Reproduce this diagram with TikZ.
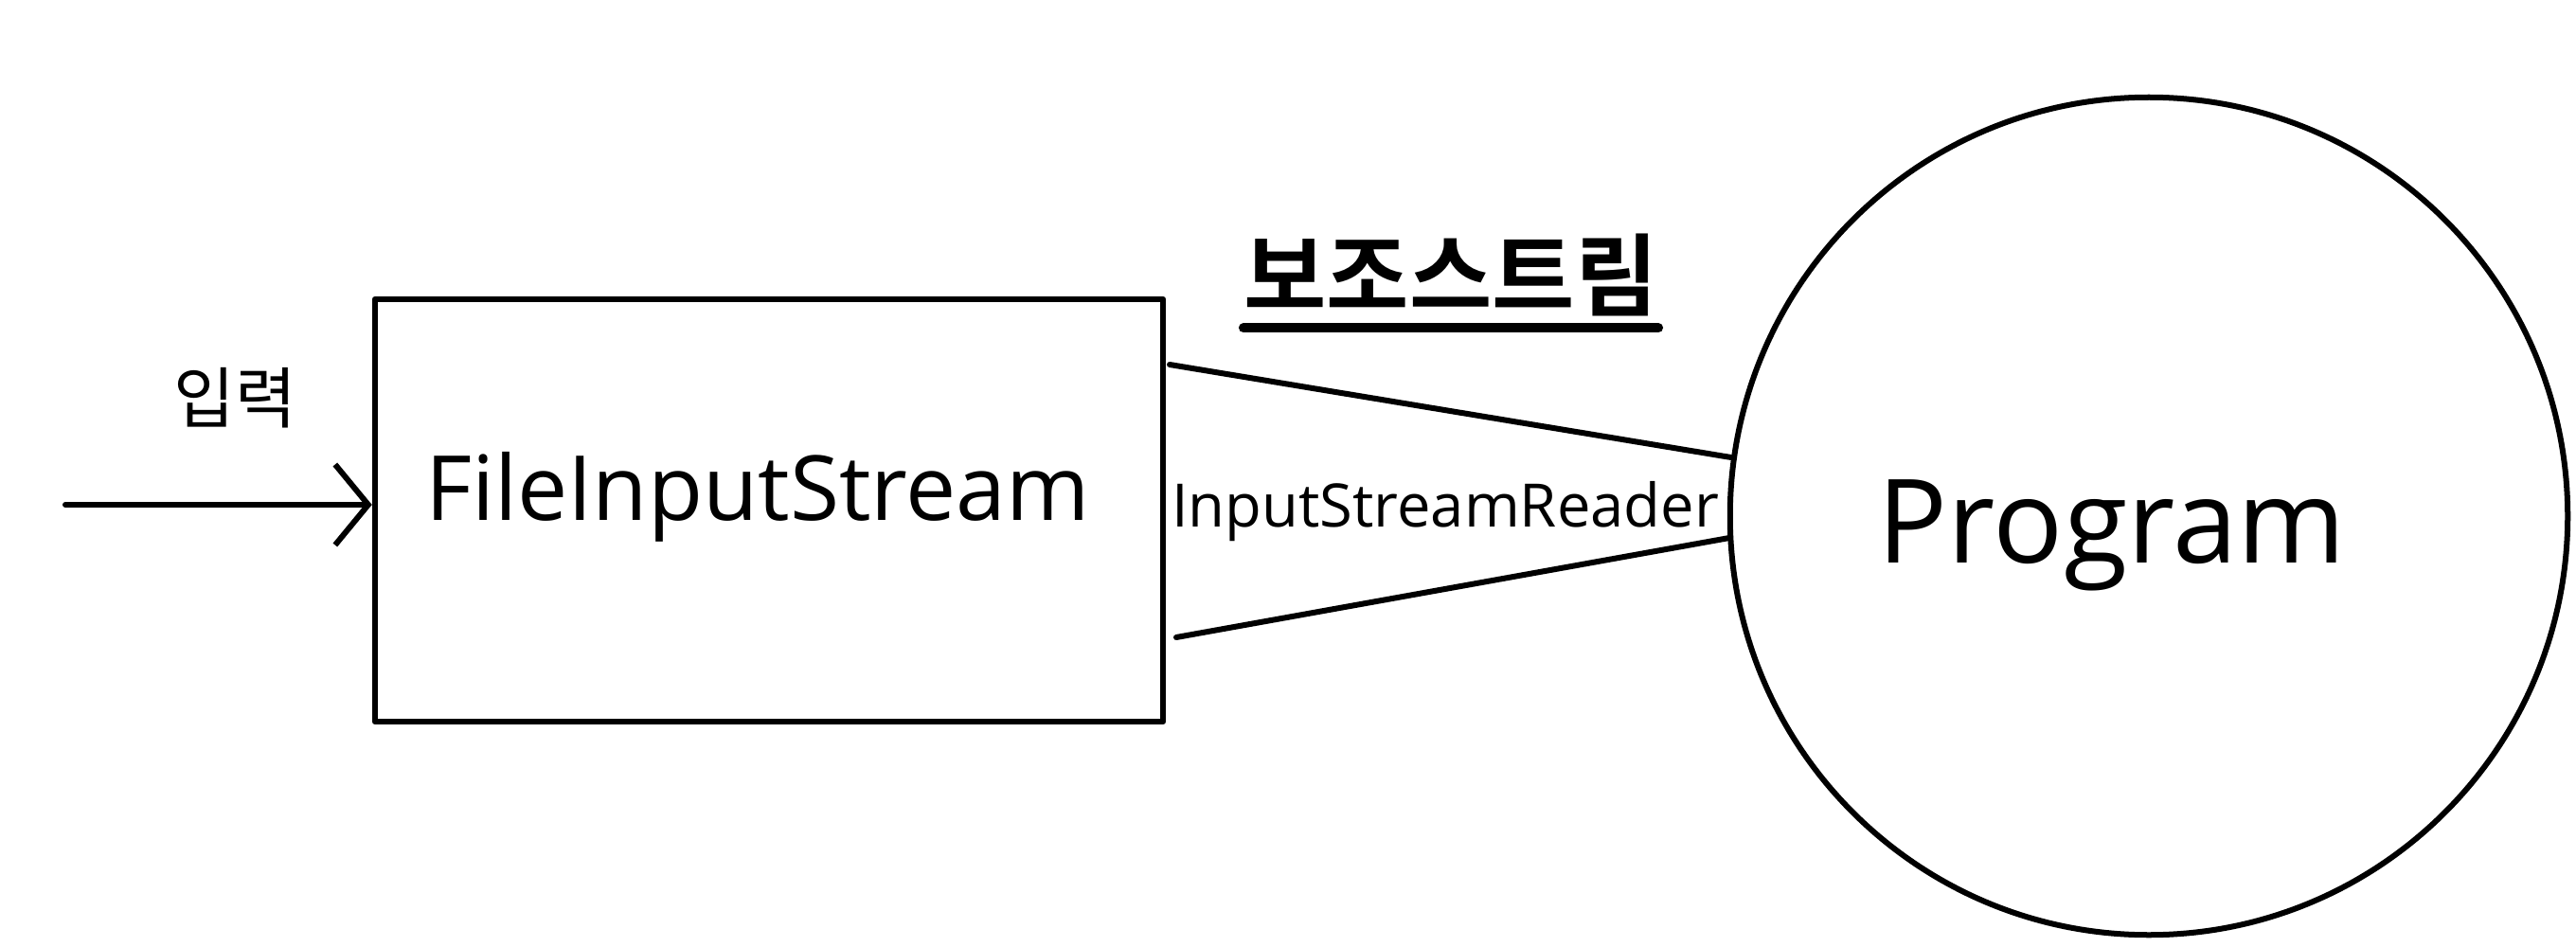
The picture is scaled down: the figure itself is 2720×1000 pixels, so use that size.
\documentclass[tikz,border=0pt]{standalone}
\usepackage{fontspec}
\setmainfont{Open Sans}
\newfontfamily\krfont{Noto Sans CJK KR}
\newfontfamily\krbold{Noto Sans CJK KR}[BoldFont={* Bold}]
\usetikzlibrary{arrows.meta}
\begin{document}
\begin{tikzpicture}[x=0.01cm,y=-0.01cm,
  stroke/.style={line width=0.06cm, line cap=round, line join=round},
  lbl/.style={inner sep=0pt, text=black}]
\useasboundingbox (0,0) rectangle (2720,1000);
% box
\node[stroke, draw, minimum width=8.32cm, minimum height=4.46cm, inner sep=0pt] (fis) at (812,539) {};
\node[lbl, font=\fontsize{27}{32}\selectfont] (fistxt) at (800,525) {FileInputStream};
% program circle
\node[stroke, draw, circle, minimum size=8.84cm, inner sep=0pt] (prog) at (2269,545) {};
\node[lbl, font=\fontsize{35}{42}\selectfont] (progtxt) at (2230,565) {Program};
% input arrow
\coordinate (start) at (69,533);
\draw[stroke, -{Straight Barb[length=0.35cm, width=0.85cm, line width=0.06cm]}] (start) -- (fis.west |- start);
\node[lbl, font=\krfont\fontsize{20}{24}\selectfont] (inlbl) at (248,420) {입력};
% stream lines
\coordinate (t1) at (1235,385);
\coordinate (b1) at (1242,673);
\draw[stroke] (t1) -- (prog.172.3);
\draw[stroke] (b1) -- (prog.183.1);
\node[lbl, font=\fontsize{18}{22}\selectfont] (isr) at (1526,540) {InputStreamReader};
\node[lbl, font=\krbold\bfseries\fontsize{27}{32}\selectfont] (aux) at (1532,290) {보조스트림};
\draw[line width=0.1cm, line cap=round] ([yshift=-0.12cm]aux.south west) -- ([yshift=-0.12cm]aux.south east);
\end{tikzpicture}
\end{document}
